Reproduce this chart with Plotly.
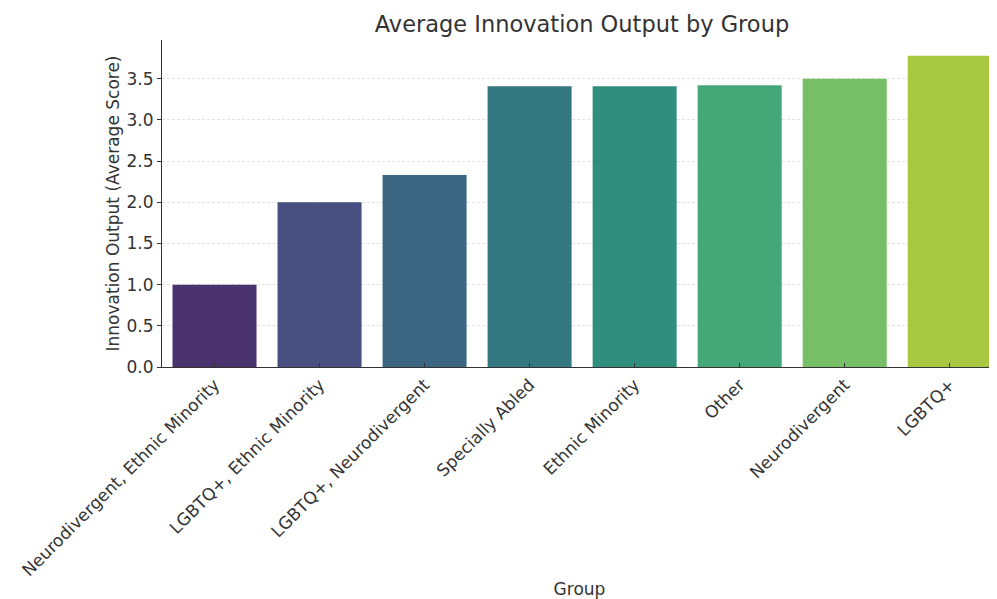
import colorsys
import plotly.graph_objects as go

groups = ["Neurodivergent, Ethnic Minority", "LGBTQ+, Ethnic Minority", "LGBTQ+, Neurodivergent",
          "Specially Abled", "Ethnic Minority", "Other", "Neurodivergent", "LGBTQ+"]
scores = [1.00, 2.00, 2.33, 3.41, 3.41, 3.42, 3.50, 3.78]
viridis8 = ["#482878", "#3e4989", "#31688e", "#26828e", "#1f9e89", "#35b779", "#6ece58", "#b5de2b"]


def desat(hexc, s=0.75):
    r, g, b = (int(hexc[i:i + 2], 16) / 255 for i in (1, 3, 5))
    h, l, sat = colorsys.rgb_to_hls(r, g, b)
    r, g, b = colorsys.hls_to_rgb(h, l, sat * s)
    return "#%02x%02x%02x" % (round(r * 255), round(g * 255), round(b * 255))


colors = [desat(c) for c in viridis8]
FONT = "DejaVu Sans"
W, H = 989, 591  # page body has an 8px margin

fig = go.Figure(go.Bar(x=list(range(len(groups))), y=scores, width=0.8,
                       marker=dict(color=colors, line=dict(width=0))))

fig.update_layout(
    width=W, height=H,
    margin=dict(l=154, r=0, t=32, b=232),
    paper_bgcolor="white", plot_bgcolor="white",
    font=dict(family=FONT, size=17, color="#333333"),
    title=dict(text="Average Innovation Output by Group", x=574 / W, xref="container",
               y=1 - 16 / H, yref="container", xanchor="center", yanchor="middle",
               font=dict(size=22.5, color="#333333", family=FONT)),
    showlegend=False, bargap=0.2,
)
fig.update_xaxes(
    range=[-0.5, 7.45], tickmode="array", tickvals=list(range(len(groups))), ticktext=groups,
    tickangle=-45, ticks="inside", ticklen=4, tickcolor="#333333",
    showline=True, linecolor="#333333", linewidth=1.2, showgrid=False, zeroline=False,
    title=dict(text="Group", standoff=6, font=dict(size=17)), automargin=False,
)
fig.update_yaxes(
    range=[0, 3.97], tickmode="array", tickvals=[0, 0.5, 1, 1.5, 2, 2.5, 3, 3.5],
    ticktext=["0.0", "0.5", "1.0", "1.5", "2.0", "2.5", "3.0", "3.5"],
    ticks="outside", ticklen=4, tickcolor="#333333",
    showline=True, linecolor="#333333", linewidth=1.2,
    showgrid=True, gridcolor="#e2e2e2", griddash="3px,2px", gridwidth=0.8, zeroline=False,
    title=dict(text="Innovation Output (Average Score)", standoff=2, font=dict(size=17)),
    automargin=False,
)

fig.write_html("out.html")
